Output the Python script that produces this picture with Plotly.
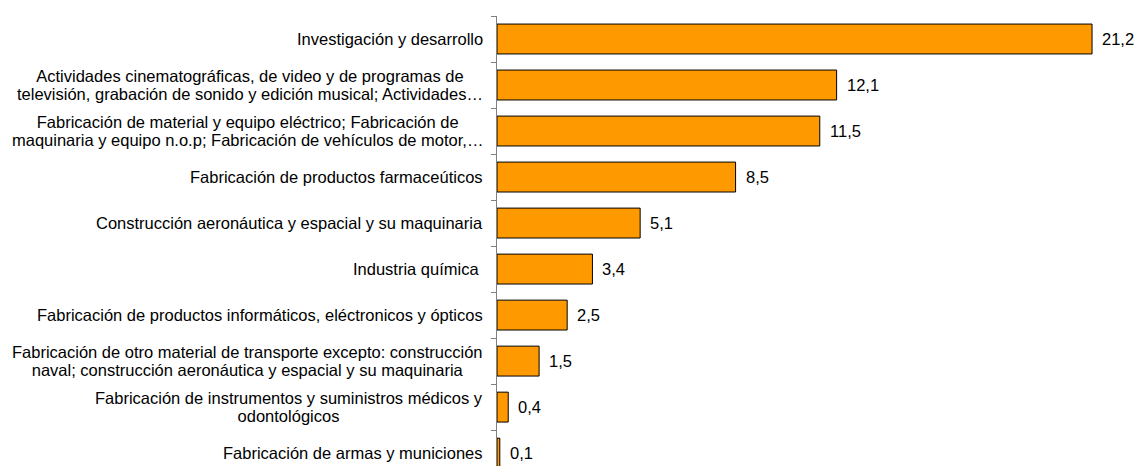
import plotly.graph_objects as go

categories = [
    "Investigación y desarrollo",
    "Actividades cinematográficas, de video y de programas de<br>televisión, grabación de sonido y edición musical; Actividades…",
    "Fabricación de material y equipo eléctrico; Fabricación de<br>maquinaria y equipo n.o.p; Fabricación de vehículos de motor,…",
    "Fabricación de productos farmaceúticos",
    "Construcción aeronáutica y espacial y su maquinaria",
    "Industria química ",
    "Fabricación de productos informáticos, eléctronicos y ópticos",
    "Fabricación de otro material de transporte excepto: construcción<br>naval; construcción aeronáutica y espacial y su maquinaria",
    "Fabricación de instrumentos y suministros médicos y<br>odontológicos",
    "Fabricación de armas y municiones",
]
values = [21.2, 12.1, 11.5, 8.5, 5.1, 3.4, 2.5, 1.5, 0.4, 0.1]
value_labels = ["21,2", "12,1", "11,5", "8,5", "5,1", "3,4", "2,5", "1,5", "0,4", "0,1"]

FONT = "Liberation Sans, Arial, sans-serif"
FS = 16.5


def styled(label):
    # keep label text; enlarge glyphs inside a smaller-line-height container
    parts = label.split("<br>")
    return "<br>".join('<span style="font-size:%spx">%s</span>' % (FS, p) for p in parts)


fig = go.Figure()
fig.add_trace(go.Bar(
    x=values,
    y=categories,
    orientation="h",
    width=0.65,
    marker=dict(color="#FF9900", line=dict(color="#000000", width=1)),
    hoverinfo="x+y",
))

annotations = []
for cat in categories:
    annotations.append(dict(
        x=0, xref="paper", xanchor="right", xshift=-12,
        y=cat, yref="y", yanchor="middle",
        text=styled(cat), showarrow=False, align="center",
        font=dict(family=FONT, size=14.1, color="#000000"),
    ))
for cat, v, lab in zip(categories, values, value_labels):
    annotations.append(dict(
        x=v, xref="x", xanchor="left", xshift=8,
        y=cat, yref="y", yanchor="middle",
        text=lab, showarrow=False,
        font=dict(family=FONT, size=FS, color="#000000"),
    ))

fig.update_layout(
    width=1134, height=458,
    margin=dict(l=489, r=0, t=8, b=0, pad=0),
    paper_bgcolor="white", plot_bgcolor="white",
    showlegend=False,
    annotations=annotations,
    font=dict(family=FONT, size=FS, color="#000000"),
)
fig.update_xaxes(
    range=[0, 22.98], showgrid=False, zeroline=False,
    showticklabels=False, ticks="", showline=False,
)
fig.update_yaxes(
    type="category",
    categoryorder="array", categoryarray=categories,
    range=[9.28, -0.5],
    showgrid=False, zeroline=False,
    showticklabels=False,
    showline=True, linecolor="#808080", linewidth=1,
    ticks="outside", ticklen=5, tickcolor="#808080", tickwidth=1,
    tickson="boundaries",
)

fig.write_html("out.html")
